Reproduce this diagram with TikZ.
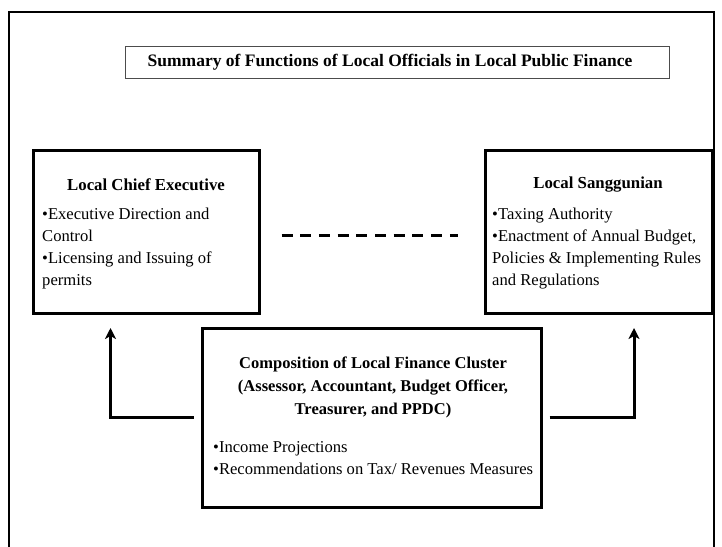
\documentclass[tikz,border=0pt]{standalone}
\usepackage{fontspec}
\setmainfont{Liberation Serif}
\usetikzlibrary{arrows.meta}
\begin{document}
\begin{tikzpicture}[x=1pt,y=-1pt,
  box/.style={draw=black,line width=3pt,inner sep=0pt},
  head/.style={font=\fontsize{16.8}{18}\selectfont\bfseries,inner sep=0pt},
  body/.style={font=\fontsize{16.6}{22}\selectfont,align=left,inner sep=0pt,anchor=north west},
  conn/.style={line width=3pt,-{Stealth[length=11pt,width=11pt,inset=3pt]}}]
\useasboundingbox (0,0) rectangle (722,546);
\fill[white] (0,0) rectangle (722,546);
% outer frame
\draw[line width=1.8pt] (9,560) -- (9,12) -- (714,12) -- (714,560);
% title
\node[draw=black!70,line width=1pt,minimum width=544pt,minimum height=32pt,inner sep=0pt] (title) at (397,62) {};
\node[head,font=\fontsize{17.5}{18}\selectfont\bfseries] (titletext) at (390,62) {Summary of Functions of Local Officials in Local Public Finance};
% LCE box
\node[box,minimum width=226pt,minimum height=163pt] (lce) at (146,231.5) {};
\node[head] (lcehead) at (146,185) {Local Chief Executive};
\node[body] (lcebody) at (42,208) {•Executive Direction and\\Control\\•Licensing and Issuing of\\permits};
% LS box
\node[box,minimum width=227pt,minimum height=163pt] (ls) at (598.5,231.5) {};
\node[head] (lshead) at (598,185) {Local Sanggunian};
\node[body] (lsbody) at (492,208) {•Taxing Authority\\•Enactment of Annual Budget,\\Policies \& Implementing Rules\\and Regulations};
% dashed link
\draw[line width=3pt,dash pattern=on 11pt off 7.7pt] ([xshift=21pt]lce.east |- 0,235) coordinate (d1) -- ([xshift=-26pt]ls.west |- 0,235) coordinate (d2);
% cluster box
\node[box,minimum width=339pt,minimum height=179pt] (cl) at (371.5,417.5) {};
\node[head,align=center,font=\fontsize{16.5}{23}\selectfont\bfseries,anchor=north] (clhead) at (373,357) {Composition of Local Finance Cluster\\(Assessor, Accountant, Budget Officer,\\Treasurer, and PPDC)};
\node[body] (clbody) at (213,441) {•Income Projections\\•Recommendations on Tax/ Revenues Measures};
% arrows
\coordinate (lt) at (110.5,328);
\coordinate (rt) at (634,328);
\draw[conn] ([xshift=-7pt]cl.west) -| (lt);
\draw[conn] ([xshift=7pt]cl.east) -| (rt);
\end{tikzpicture}
\end{document}
